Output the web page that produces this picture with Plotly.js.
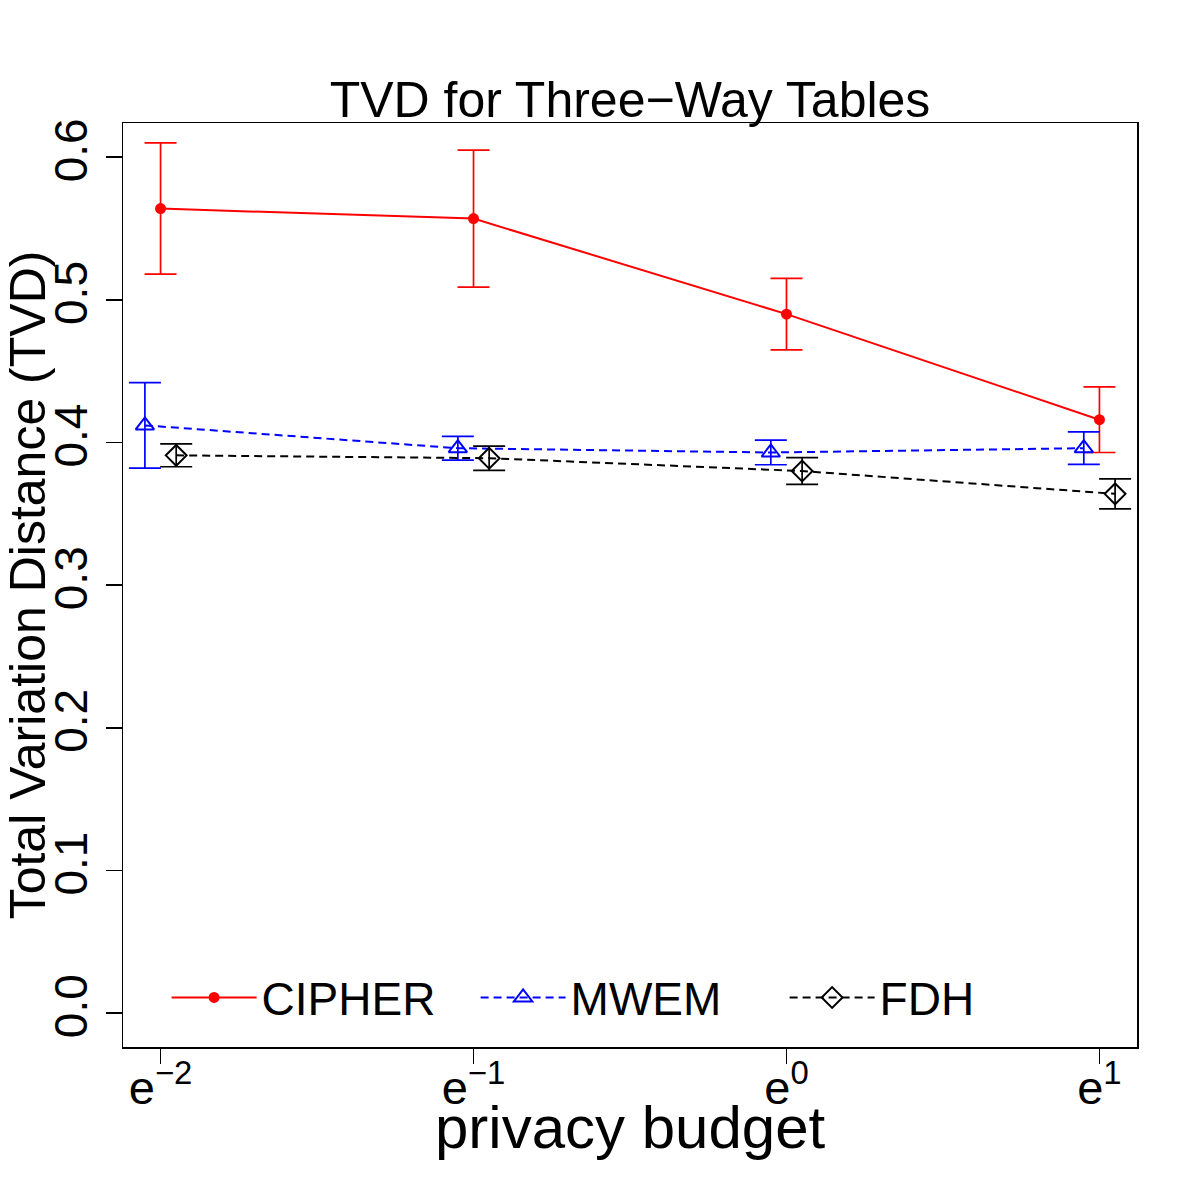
<!DOCTYPE html>
<html>
<head>
<meta charset="utf-8">
<script src="https://cdn.plot.ly/plotly-3.0.1.min.js"></script>
<style>html,body{margin:0;padding:0;background:#fff;}#chart{width:1200px;height:1200px;}</style>
</head>
<body>
<div id="chart"></div>
<script>
// privacy budget as exponent of e
const budgetExp = [-2, -1, 0, 1];
const tickLabels = ['e<sup>\u22122</sup>', 'e<sup>\u22121</sup>', 'e<sup>0</sup>', 'e<sup>1</sup>'];
// plotted positions (R dodge offsets)
const xCIPHER = [-2, -1, 0, 1];
const xMWEM = [-2.05, -1.05, -0.05, 0.95];
const xFDH = [-1.95, -0.95, 0.05, 1.05];
// TVD means
const cipherTVD = [0.564, 0.557, 0.490, 0.416];
const mwemTVD = [0.412, 0.396, 0.393, 0.396];
const fdhTVD = [0.391, 0.389, 0.380, 0.364];
// error half-widths
const cipherErr = [0.046, 0.048, 0.025, 0.023];
const mwemErr = [0.030, 0.0083, 0.0086, 0.0114];
const fdhErr = [0.0080, 0.0085, 0.0094, 0.0105];

const FONT = 'Liberation Sans, Arial, Helvetica, sans-serif';

const traces = [
  {
    name: 'CIPHER', x: xCIPHER, y: cipherTVD, type: 'scatter', mode: 'lines+markers',
    line: {color: '#FF0000', width: 2},
    marker: {symbol: 'circle', size: 11, color: '#FF0000'},
    error_y: {type: 'data', array: cipherErr, visible: true, color: '#FF0000', thickness: 1.7, width: 16}
  },
  {
    name: 'MWEM', x: xMWEM, y: mwemTVD, type: 'scatter', mode: 'lines+markers',
    line: {color: '#0000FF', width: 2, dash: '8px,5px'},
    marker: {symbol: 'triangle-up-open', size: 16, color: '#0000FF', line: {width: 2, color: '#0000FF'}},
    error_y: {type: 'data', array: mwemErr, visible: true, color: '#0000FF', thickness: 1.7, width: 16}
  },
  {
    name: 'FDH', x: xFDH, y: fdhTVD, type: 'scatter', mode: 'lines+markers',
    line: {color: '#000000', width: 2, dash: '8px,5px'},
    marker: {symbol: 'diamond-open', size: 16, color: '#000000', line: {width: 2, color: '#000000'}},
    error_y: {type: 'data', array: fdhErr, visible: true, color: '#000000', thickness: 1.7, width: 16}
  }
];

const layout = {
  width: 1200, height: 1200,
  paper_bgcolor: '#ffffff', plot_bgcolor: '#ffffff',
  margin: {l: 123, r: 63, t: 123, b: 153, pad: 0},
  font: {family: FONT, color: '#000000', size: 46},
  title: {
    text: 'TVD for Three\u2212Way Tables',
    font: {family: FONT, size: 50, color: '#000000'},
    x: 0.5, xref: 'paper', xanchor: 'center',
    y: 1 - 99 / 1200, yref: 'container', yanchor: 'middle'
  },
  showlegend: true,
  legend: {
    orientation: 'h', x: 0.043, y: 0.014, xanchor: 'left', yanchor: 'bottom',
    bgcolor: 'rgba(0,0,0,0)', borderwidth: 0,
    font: {family: FONT, size: 46, color: '#000000'},
    itemwidth: 85, entrywidth: 209, entrywidthmode: 'pixels', tracegroupgap: 0
  },
  xaxis: {
    range: [-2.12, 1.12],
    tickmode: 'array', tickvals: budgetExp, ticktext: tickLabels,
    ticks: 'outside', ticklen: 15, tickwidth: 1.5, tickcolor: '#000',
    ticklabelstandoff: -16,
    tickfont: {family: FONT, size: 47, color: '#000'},
    showgrid: false, zeroline: false,
    showline: true, linecolor: '#000', linewidth: 1.5, mirror: true
  },
  yaxis: {
    range: [-0.0238, 0.624],
    tickmode: 'array', tickvals: [0, 0.1, 0.2, 0.3, 0.4, 0.5, 0.6],
    ticktext: ['0.0', '0.1', '0.2', '0.3', '0.4', '0.5', '0.6'],
    tickangle: -90,
    ticks: 'outside', ticklen: 16, tickwidth: 1.5, tickcolor: '#000',
    tickfont: {family: FONT, size: 46, color: '#000'},
    showgrid: false, zeroline: false,
    showline: true, linecolor: '#000', linewidth: 1.5, mirror: true,
    title: {text: 'Total Variation Distance (TVD)', font: {family: FONT, size: 50, color: '#000'}, standoff: 0}
  },
  annotations: [
    {
      text: 'privacy budget', showarrow: false,
      xref: 'paper', yref: 'paper', x: 0.5, y: -0.087, xanchor: 'center', yanchor: 'middle',
      font: {family: FONT, size: 60, color: '#000'}
    }
  ]
};

Plotly.newPlot('chart', traces, layout, {displayModeBar: false, staticPlot: true});
</script>
</body>
</html>
